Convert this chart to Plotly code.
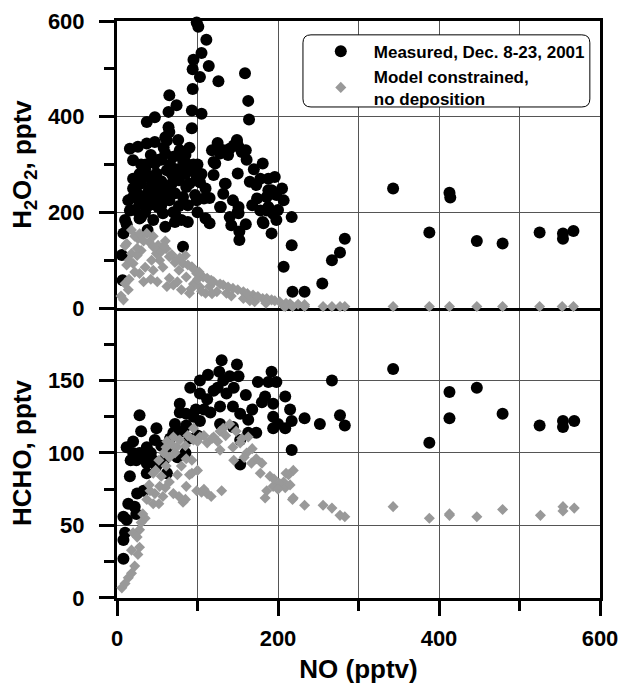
import plotly.graph_objects as go

# ---------------- data ----------------
meas_h2o2_no = [99, 101, 111, 105, 95, 94, 103, 114, 126, 94, 93, 105, 93, 159, 163, 164,
                65, 74, 64, 47, 37, 64, 65, 76, 60, 47, 37, 26, 16, 20, 60, 82, 70, 47,
                93, 99, 62, 49, 38, 77, 65, 53, 40, 20, 20, 14, 28, 16, 10, 28, 8, 6, 7,
                45, 51, 57, 45, 38, 60, 72, 77, 82, 86, 80, 82, 97, 103, 99, 108, 110,
                120, 122, 128, 132, 140, 149, 151, 161, 135, 132, 144, 128, 150, 142,
                152, 152, 150, 165, 173, 181, 186, 196, 192, 198, 186, 181, 194, 192,
                207, 217, 217, 207, 218, 233, 255, 267, 277, 283, 343, 388, 413, 414,
                447, 479, 525, 554, 554, 567,
                30, 35, 42, 55, 55, 68, 72, 85, 88, 30, 25, 33, 40, 50, 58, 66, 90, 95,
                78, 85, 70, 35, 12, 22, 44, 30, 88, 62, 75,
                149, 130, 155, 120, 134, 174, 188, 188, 178, 182, 198, 115, 129, 151, 151,
                25, 28, 36, 42, 48, 52, 58, 62, 68, 80, 84, 90, 100, 105, 110, 115, 38, 45,
                55, 65, 72, 88, 100, 30, 20, 118, 125, 138, 145, 160, 170, 178, 188, 200,
                205, 168, 160, 140]
meas_h2o2 = [597, 588, 561, 533, 519, 499, 483, 506, 474, 458, 413, 406, 376, 491, 433, 394,
             445, 424, 410, 399, 389, 378, 368, 351, 357, 347, 344, 337, 333, 309, 323, 309,
             316, 302, 288, 274, 288, 281, 274, 267, 253, 250, 247, 250, 232, 225, 218, 204,
             184, 187, 156, 111, 58, 225, 211, 198, 184, 163, 170, 198, 213, 232, 253, 184,
             128, 236, 263, 225, 229, 187, 278, 302, 323, 330, 333, 351, 337, 310, 260, 239,
             225, 211, 201, 173, 160, 142, 281, 264, 257, 302, 232, 274, 246, 236, 204, 180,
             197, 156, 225, 190, 131, 86, 34, 34, 51, 100, 116, 145, 250, 158, 241, 231,
             140, 135, 158, 156, 145, 161,
             300, 290, 320, 310, 265, 280, 240, 280, 300, 260, 240, 230, 215, 235, 225, 300,
             260, 300, 330, 320, 200, 200, 175, 205, 260, 270, 215, 240, 290,
             347, 330, 326, 305, 260, 229, 246, 211, 204, 177, 184, 177, 211, 211, 198,
             260, 280, 300, 275, 260, 310, 335, 350, 260, 280, 300, 335, 300, 280, 250, 230,
             240, 245, 215, 225, 180, 180, 200, 190, 270, 330, 345, 320, 340, 330, 290, 270,
             270, 205, 250, 215, 175, 190]

model_h2o2_no = [18, 26, 37, 40, 51, 61, 65, 74, 82, 93, 99, 107, 120, 132, 144, 157, 169,
                 181, 192, 202, 215, 233, 12, 18, 20, 10, 8, 14, 28, 45, 53, 70, 80, 90, 110,
                 124, 49, 77, 86, 103, 136, 157, 171,
                 30, 43, 57, 65, 33, 22, 5, 95, 115, 60, 85, 100, 30, 45,
                 22, 28, 33, 45, 55, 58, 68, 72, 78, 88, 96, 102, 112, 117, 128, 138, 150,
                 162, 175, 186, 196, 210, 225, 15, 12, 25, 35, 42, 50, 62, 75, 92, 105, 118,
                 142, 165, 185, 10, 15, 25,
                 207, 209, 218, 233, 256, 267, 277, 283, 343, 388, 413, 447, 479, 525, 553, 567]
model_h2o2 = [163, 145, 156, 138, 131, 124, 107, 100, 93, 86, 72, 65, 55, 48, 41, 34, 27,
              20, 17, 13, 9, 7, 135, 114, 93, 51, 17, 38, 72, 79, 100, 48, 38, 31, 31,
              34, 114, 79, 65, 44, 31, 20, 13,
              120, 100, 85, 62, 55, 75, 25, 50, 45, 140, 110, 60, 150, 150,
              150, 155, 140, 128, 118, 130, 112, 95, 105, 90, 80, 75, 62, 58, 50, 44, 38,
              30, 24, 20, 15, 10, 8, 60, 90, 110, 85, 60, 55, 45, 55, 40, 35, 30,
              25, 15, 10, 130, 100, 125,
              4, 3, 3, 3, 3, 3, 3, 3, 3, 3, 3, 3, 3, 3, 3, 3]

meas_hcho_no = [130, 149, 113, 103, 127, 140, 151, 91, 120, 136, 103, 78, 112, 128, 144, 86,
                98, 103, 86, 78, 153, 163, 173, 163, 144, 128, 153, 153, 175, 192, 188, 198,
                209, 184, 180, 194, 215, 194, 200, 217, 209, 194, 217, 233, 252, 70, 62, 49,
                47, 37, 33, 37, 49, 37, 62, 28, 20, 12, 20, 24, 16, 33, 14, 22, 24, 8, 12,
                10, 8, 8, 267, 343, 413, 447, 413, 479, 388, 525, 554, 554, 568, 277, 283,
                42, 55, 58, 45, 66, 72, 82, 95, 108, 116, 125, 132, 145, 160, 168, 90, 100,
                85, 75, 28, 30, 17, 25]
meas_hcho = [164, 161, 154, 150, 156, 153, 153, 145, 143, 141, 141, 134, 137, 132, 132, 127,
             130, 122, 119, 128, 127, 123, 114, 114, 118, 120, 109, 92, 149, 156, 149, 149,
             139, 139, 135, 134, 130, 125, 120, 122, 117, 117, 102, 124, 120, 114, 104, 117,
             109, 104, 97, 93, 91, 86, 86, 126, 108, 104, 100, 95, 84, 74, 65, 63, 58, 56, 54,
             45, 40, 27, 150, 158, 142, 145, 124, 127, 107, 119, 122, 118, 122, 126, 119,
             100, 105, 95, 95, 110, 120, 115, 125, 130, 128, 145, 150, 145, 140, 130, 110,
             112, 100, 97, 100, 115, 95, 72]

model_hcho_no = [343, 388, 413, 413, 447, 479, 526, 554, 554, 568, 218, 233, 256, 267, 277,
                 283, 219, 213, 207, 209,
                 6, 10, 14, 18, 22, 18, 28, 26, 20, 28, 35, 37, 45, 47, 53, 55, 61, 65, 74,
                 78, 70, 82, 86, 93, 93, 95, 95, 103, 112, 120, 128, 132, 140, 128, 144, 153,
                 161, 163, 173, 180, 178, 190, 202, 186, 184, 194, 219, 130, 112, 99, 105,
                 70, 61, 86, 80, 45, 41,
                 40, 48, 52, 58, 62, 68, 72, 85, 88, 100, 108, 118, 125, 135, 148, 155, 145,
                 158, 167, 168, 195, 200, 215, 210, 75, 65, 57, 90, 100, 52, 60, 30, 25, 32,
                 85, 108, 117, 77]
model_hcho = [63, 55, 58, 57, 56, 61, 57, 63, 60, 62, 68, 64, 64, 62, 57,
              56, 88, 85, 80, 76,
              7, 10, 14, 17, 22, 33, 35, 30, 45, 47, 55, 68, 65, 72, 77, 84, 91, 97, 104,
              109, 72, 66, 77, 86, 95, 109, 117, 111, 107, 111, 115, 117, 120, 102, 104, 107,
              100, 111, 96, 93, 86, 84, 79, 74, 69, 77, 69, 74, 72, 74, 73,
              111, 104, 96, 91, 86, 74,
              78, 88, 95, 100, 108, 106, 100, 105, 112, 108, 112, 110, 108, 112, 115, 110, 95,
              97, 93, 103, 82, 75, 78, 86, 85, 80, 70, 85, 88, 65, 76, 52, 42, 58,
              68, 75, 70, 70]

# ---------------- figure ----------------
BOLD = dict(family="Liberation Sans, Arial, sans-serif", color="black", weight="bold")
BLACK = "#000000"
GREY = "#999999"
GRID = "#555555"

fig = go.Figure()

fig.add_trace(go.Scatter(x=meas_h2o2_no, y=meas_h2o2, mode="markers", xaxis="x2", yaxis="y2",
                         name="Measured, Dec. 8-23, 2001", cliponaxis=False,
                         marker=dict(symbol="circle", size=12, color=BLACK, line=dict(width=0))))
fig.add_trace(go.Scatter(x=model_h2o2_no, y=model_h2o2, mode="markers", xaxis="x2", yaxis="y2",
                         name="Model constrained,<br>no deposition", cliponaxis=False,
                         marker=dict(symbol="diamond", size=8.5, color=GREY, line=dict(width=0))))
fig.add_trace(go.Scatter(x=meas_hcho_no, y=meas_hcho, mode="markers", xaxis="x", yaxis="y",
                         showlegend=False, cliponaxis=False,
                         marker=dict(symbol="circle", size=12, color=BLACK, line=dict(width=0))))
fig.add_trace(go.Scatter(x=model_hcho_no, y=model_hcho, mode="markers", xaxis="x", yaxis="y",
                         showlegend=False, cliponaxis=False,
                         marker=dict(symbol="diamond", size=8.5, color=GREY, line=dict(width=0))))

split = 0.5026
line_axis = dict(showline=True, linewidth=3, linecolor="black", zeroline=False,
                 layer="below traces")

fig.update_layout(
    width=623, height=689,
    margin=dict(l=117, r=23, t=21, b=91, autoexpand=False),
    paper_bgcolor="white", plot_bgcolor="white",
    font=BOLD,
    showlegend=True,
    legend=dict(x=0.395, y=0.978, xanchor="left", yanchor="top",
                bgcolor="rgba(0,0,0,0)", borderwidth=0,
                font=dict(size=17, **BOLD),
                itemwidth=56, tracegroupgap=0),
    xaxis=dict(domain=[0, 1], anchor="y", range=[0, 600], dtick=200, tick0=0,
               ticks="outside", ticklen=15, tickwidth=3, tickcolor="black",
               showgrid=True, gridcolor=GRID, gridwidth=1,
               minor=dict(dtick=100, tick0=0, ticks="outside", ticklen=10, tickwidth=3,
                          tickcolor="black", showgrid=True, gridcolor=GRID, gridwidth=1),
               tickfont=dict(size=22, **BOLD), ticklabelstandoff=4,
               title=dict(text="NO (pptv)", font=dict(size=26, **BOLD), standoff=10),
               mirror=False, **line_axis),
    xaxis2=dict(domain=[0, 1], anchor="y2", matches="x", range=[0, 600], dtick=200, tick0=0,
                ticks="", showticklabels=False,
                showgrid=True, gridcolor=GRID, gridwidth=1,
                minor=dict(dtick=100, tick0=0, ticks="", showgrid=True, gridcolor=GRID,
                           gridwidth=1),
                mirror=True, **line_axis),
    yaxis=dict(domain=[0, split], anchor="x", range=[0, 200], tickvals=[0, 50, 100, 150],
               ticks="outside", ticklen=15, tickwidth=3, tickcolor="black",
               showgrid=True, gridcolor=GRID, gridwidth=1,
               minor=dict(tickvals=[25, 75, 125, 175], ticks="outside", ticklen=10,
                          tickwidth=3, tickcolor="black", showgrid=False),
               tickfont=dict(size=22, **BOLD), ticklabelstandoff=10,
               title=dict(text="HCHO, pptv", font=dict(size=26, **BOLD), standoff=9),
               mirror=True, **line_axis),
    yaxis2=dict(domain=[split, 1], anchor="x2", range=[0, 600], tickvals=[0, 200, 400, 600],
                ticks="outside", ticklen=15, tickwidth=3, tickcolor="black",
                showgrid=True, gridcolor=GRID, gridwidth=1,
                minor=dict(tickvals=[100, 300, 500], ticks="outside", ticklen=10,
                           tickwidth=3, tickcolor="black", showgrid=False),
                tickfont=dict(size=22, **BOLD), ticklabelstandoff=10,
                title=dict(text="H<sub>2</sub>O<sub>2</sub>, pptv", font=dict(size=26, **BOLD),
                           standoff=9),
                mirror=True, **line_axis),
)

# rounded legend box
x0, x1, y0, y1 = 0.385, 0.979, 0.851, 0.976
rx, ry = 0.0166, 0.0139
path = (f"M {x0+rx},{y1} L {x1-rx},{y1} Q {x1},{y1} {x1},{y1-ry} L {x1},{y0+ry} "
        f"Q {x1},{y0} {x1-rx},{y0} L {x0+rx},{y0} Q {x0},{y0} {x0},{y0+ry} "
        f"L {x0},{y1-ry} Q {x0},{y1} {x0+rx},{y1} Z")
fig.add_shape(type="path", path=path, xref="paper", yref="paper",
              line=dict(color="black", width=1), fillcolor="white", layer="above")

fig.write_html("out.html")
